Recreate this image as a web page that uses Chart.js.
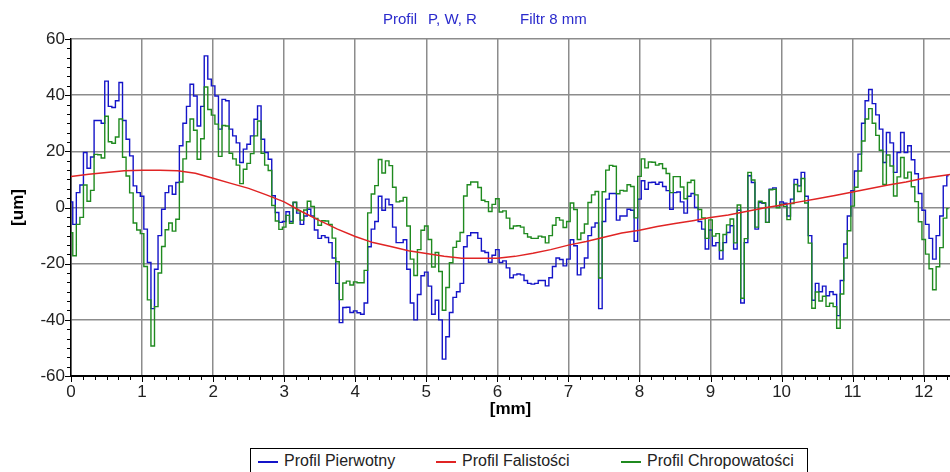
<!DOCTYPE html>
<html>
<head>
<meta charset="utf-8">
<script src="https://cdn.jsdelivr.net/npm/chart.js@4.4.1/dist/chart.umd.min.js"></script>
<style>
    html, body { margin: 0; padding: 0; background: #fff; overflow: hidden; }
    #wrap { position: relative; width: 950px; height: 472px; }
    #legenda {
        position: absolute; left: 250px; top: 448px; width: 558px; height: 34px;
        border: 1px solid #000; box-sizing: border-box;
        font: 16px "Liberation Sans", Arial, sans-serif; color: #222;
    }
    .item { position: absolute; top: 3px; line-height: 18px; white-space: nowrap; }
    .linha { display: inline-block; width: 20px; height: 2px; vertical-align: middle; margin-right: 6px; }
</style>
</head>
<body>
<div id="wrap">
    <canvas id="grafico" width="950" height="440" style="width:950px;height:440px"></canvas>
    <div id="legenda">
        <span class="item" style="left:7px"><span class="linha" style="background:#1414c8"></span>Profil Pierwotny</span>
        <span class="item" style="left:185px"><span class="linha" style="background:#e02424"></span>Profil Falistości</span>
        <span class="item" style="left:370px"><span class="linha" style="background:#1f8a1f"></span>Profil Chropowatości</span>
    </div>
</div>
<script>
const FONTE = '"Liberation Sans", Arial, sans-serif';

// odczyt co 0.05 mm
const PASSO = 0.05;
const X_MAX = 12.37;

// Profil pierwotny (P) [um]
const PERFIL_P = [
    2, -6, 5.3, 8, 19.6, 14, 18, 31, 31, 30, 45, 36, 35.6, 38, 44.5, 31, 24.3, 18.4, 7.7, 5.3,
    4, -7.7, -19.6, -36, -22, -10, -0.6, 5.3, 7.7, 4.7, 8.9, 22, 30, 36, 43.9, 39.7, 29, 36, 54, 45.7,
    43.3, 39.7, 27.9, 38.5, 38, 27.9, 25.5, 23, 16, 20.8, 22.5, 25.5, 31.4, 36.2, 24.3, 19.6, 17.2, 4.2, -1.8, -5.3,
    -5, -1.5, -5, 1.8, -2, -6, -3, -0.6, -3, -8, -11, -10, -10.7, -12.5, -18, -27, -41, -35.6, -35.5, -37.4,
    -36.8, -37.5, -38, -34, -14, -7.7, -5, 4, -1, 3, 1, -7, -12.5, -12.5, -11.5, -22, -34, -40, -31, -24.3,
    -23, -28, -38, -33, -40, -54, -46, -37.4, -32, -30, -27, -14, -10, -9, -9, -11, -15.5, -16, -19.5, -17,
    -15, -19.6, -19, -21.5, -25, -24, -23.7, -24, -26, -27, -27.3, -27, -26, -26, -27.9, -25, -21, -18, -18.5, -20.8,
    -18.4, -11.5, -13.6, -24, -21.5, -18, -10, -7, -5.5, -36, -5, 3, 5, 5, -4.5, -3, -3, -0.6, -1, -12,
    3, 9.5, 6.5, 8.9, 9, 8.3, 9, 7.5, 6, -0.6, 5.3, 5.5, 2, -2, 4, 5, 0, -5, -7.7, -14.8,
    -8, -13.6, -12.5, -18.4, -12.5, -8.9, -6.5, -14.8, -1, -34, -12.5, 11.3, 8.9, -7.7, 1.8, 1.5, -5.3, 6.5, 7, 0.6,
    2, 1.5, -3, 3, 10, 7.7, 12.5, 4, -10, -33, -27, -30, -28, -31.4, -30, -31, -38.5, -26, -13, -3,
    6, 13, 19, 30, 38, 42, 37, 33, 27.9, 16, 26.7, 23, 12.5, 19.6, 26.7, 19.6, 22, 17, 12, 5,
    -1, -6, -11, -18.4, -10, -3, 7.7, 11.3
];

// Profil chropowatości (R) [um]
const PERFIL_R = [
    -9, -17.2, -6, -3.5, 8, 2.2, 6.1, 18.9, 18.8, 17.6, 32.5, 23.4, 22.9, 25.1, 31.5, 17.9, 11.2, 5.2, -5.5, -8,
    -9.3, -21, -32.9, -49.3, -35.3, -23.3, -13.9, -7.9, -5.5, -8.4, -4.2, 9.1, 17.3, 23.4, 31.5, 27.5, 17.2, 24.5, 42.9, 34.9,
    32.9, 29.7, 18.2, 29.2, 29, 19.3, 17.3, 15.1, 8.5, 13.6, 15.7, 19.2, 25.5, 30.8, 19.3, 15.1, 13.2, 0.7, -4.8, -7.8,
    -7, -2.8, -5.6, 1.9, -1.2, -4.5, -0.9, 2.2, 0.4, -3.9, -6.3, -4.7, -4.8, -6, -10.9, -19.3, -32.8, -26.9, -26.2, -27.6,
    -26.5, -26.8, -26.8, -22.4, -1.9, 4.8, 7.8, 17.1, 12.3, 16.6, 14.9, 7.2, 2, 2.3, 3.6, -6.6, -18.4, -24.2, -15, -8.1,
    -6.6, -11.4, -21.2, -16, -22.8, -36.6, -28.5, -19.7, -14.2, -12, -8.9, 4.1, 8.1, 9.1, 9.1, 7.1, 2.6, 2.1, -1.4, 1.1,
    3.1, -1.6, -1.2, -3.8, -7.5, -6.6, -6.5, -7, -9.3, -10.5, -11, -11, -10.2, -10.5, -12.6, -10, -6.3, -3.6, -4.5, -7.1,
    -5, 1.6, -0.7, -11.4, -9.1, -5.9, 1.8, 4.5, 5.7, -25.1, 5.6, 13.3, 15, 14.7, 4.9, 6.1, 5.9, 8.1, 7.5, -3.7,
    11.1, 17.3, 14.1, 16.2, 16.1, 15.1, 15.6, 13.9, 12.1, 5.3, 11, 11, 7.3, 3.1, 8.9, 9.7, 4.5, -0.7, -3.7, -11,
    -4.4, -10.2, -9.3, -15.3, -9.6, -6.2, -4.1, -12.6, 0.9, -32.3, -11.1, 12.5, 9.8, -7, 2.2, 1.7, -5.3, 6.3, 6.5, -0.1,
    1.1, 0.4, -4.3, 1.4, 8.2, 5.7, 10.3, 1.6, -12.7, -35.9, -30.1, -33.3, -31.6, -35.2, -34.1, -35.3, -43, -30.8, -18, -8.3,
    0.5, 7.2, 13, 23.7, 31.5, 35.2, 30, 25.7, 20.4, 8.2, 18.7, 14.8, 4.1, 10.9, 17.8, 10.5, 12.6, 7.4, 2.1, -5.1,
    -11.4, -16.6, -21.8, -29.3, -21.1, -14.3, -3.8, -0.4
];

// Profil falistości (W) [um], co 0.25 mm
const PASSO_W = 0.25;
const PERFIL_W = [
    11.0, 11.8, 12.5, 13.1, 13.3, 13.3, 13.1, 12.2, 10.4, 8.6,
    6.8, 4.5, 2.0, -1.5, -4.7, -7.7, -10.3, -12.5, -13.9, -15.4,
    -16.4, -17.4, -18.1, -18.1, -18.1, -17.4, -16.3, -15.0, -13.4, -12.1,
    -10.6, -9.1, -8.1, -6.8, -5.7, -4.7, -3.6, -2.7, -1.4, -0.2,
    0.9, 2.0, 3.1, 4.3, 5.5, 6.8, 8.0, 9.1, 10.4, 11.3,
    12.3
];

const TITULO = ["Profil", "P, W, R", "Filtr 8 mm"];
const TITULO_X = [383, 428, 520];

function pontos(valores, passo) {
    return valores.map((v, i) => ({ x: i * passo, y: v }));
}

// ticks menores (6 por divisão) + título
const extras = {
    id: "extras",
    afterDraw(chart) {
        const { ctx, chartArea: a, scales: { x, y } } = chart;
        ctx.save();
        ctx.strokeStyle = "#000";
        ctx.lineWidth = 1;
        ctx.beginPath();
        for (let i = 0; i <= 80; i++) {
            const v = i / 6;
            if (v > X_MAX) break;
            const px = Math.round(x.getPixelForValue(v)) + 0.5;
            const len = i % 6 === 0 ? 6 : 4;
            ctx.moveTo(px, a.bottom);
            ctx.lineTo(px, a.bottom + len);
        }
        for (let i = 0; i <= 36; i++) {
            const py = Math.round(y.getPixelForValue(-60 + i * 20 / 6)) + 0.5;
            const len = i % 6 === 0 ? 6 : 4;
            ctx.moveTo(a.left - len, py);
            ctx.lineTo(a.left, py);
        }
        ctx.stroke();

        ctx.fillStyle = "#2a2acc";
        ctx.font = "15px " + FONTE;
        ctx.textBaseline = "middle";
        ctx.textAlign = "left";
        TITULO.forEach((t, i) => ctx.fillText(t, TITULO_X[i], 20));
        ctx.restore();
    }
};

const grade = { color: "#8c8c8c", lineWidth: 1.5, drawTicks: false };

new Chart(document.getElementById("grafico"), {
    type: "line",
    data: {
        datasets: [
            {
                label: "Profil Falistości",
                data: pontos(PERFIL_W, PASSO_W),
                borderColor: "#e02424",
                borderWidth: 1.5
            },
            {
                label: "Profil Chropowatości",
                data: pontos(PERFIL_R, PASSO),
                borderColor: "#1f8a1f",
                borderWidth: 1.4,
                stepped: "middle"
            },
            {
                label: "Profil Pierwotny",
                data: pontos(PERFIL_P, PASSO),
                borderColor: "#1414c8",
                borderWidth: 1.4,
                stepped: "middle"
            }
        ]
    },
    options: {
        responsive: false,
        animation: false,
        devicePixelRatio: 1,
        layout: { padding: { top: 39, right: 0, left: 0, bottom: 0 } },
        elements: { point: { radius: 0 }, line: { tension: 0 } },
        plugins: {
            legend: { display: false },
            title: { display: false },
            tooltip: { enabled: false }
        },
        scales: {
            x: {
                type: "linear",
                min: 0,
                max: X_MAX,
                afterFit: s => { s.height = 64; s.paddingLeft = 0; s.paddingRight = 0; },
                ticks: {
                    stepSize: 1, includeBounds: false, autoSkip: false, maxRotation: 0,
                    color: "#222", padding: 6, font: { size: 17, family: FONTE }
                },
                grid: grade,
                border: { color: "#000", width: 2 },
                title: {
                    display: true, text: "[mm]", color: "#000",
                    font: { size: 17, weight: "bold", family: FONTE },
                    padding: { top: 0, bottom: 20 }
                }
            },
            y: {
                min: -60,
                max: 60,
                afterFit: s => { s.width = 71; s.paddingTop = 0; s.paddingBottom = 0; },
                ticks: {
                    stepSize: 20, color: "#222", padding: 6,
                    font: { size: 17, family: FONTE }
                },
                grid: grade,
                border: { color: "#000", width: 1.5 },
                title: {
                    display: true, text: "[um]", color: "#000",
                    font: { size: 17, weight: "bold", family: FONTE },
                    padding: { top: 8, bottom: 0 }
                }
            }
        }
    },
    plugins: [extras]
});
</script>
</body>
</html>
